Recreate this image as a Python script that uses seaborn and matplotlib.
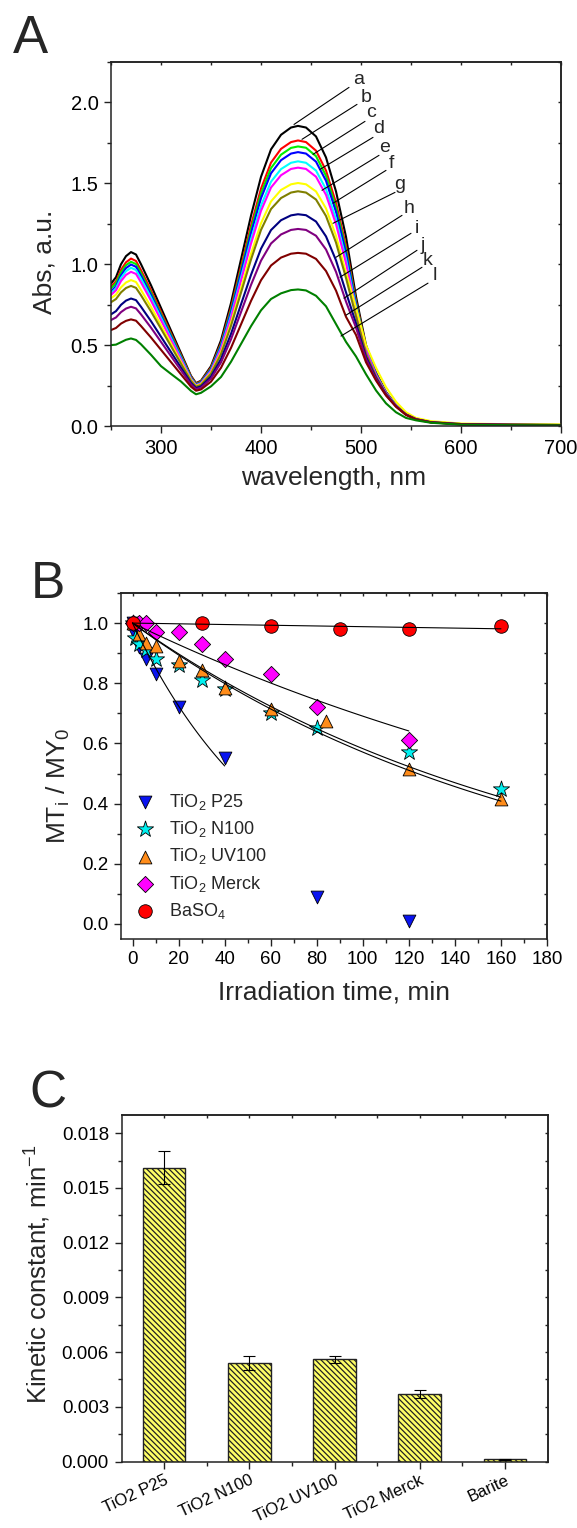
import numpy as np
import pandas as pd
import matplotlib
matplotlib.use("Agg")
import matplotlib.pyplot as plt
import seaborn as sns
from matplotlib.ticker import MultipleLocator, FixedLocator

# ---------------- data: panel A (UV-vis spectra) ----------------
wavelength = [250, 255, 260, 265, 270, 275, 280, 290, 300, 310, 320, 330, 335,
              340, 350, 360, 370, 380, 390, 400, 410, 420, 430, 437,
              445, 455, 465, 475, 485, 495, 505, 515, 525, 535, 545, 555,
              570, 600, 650, 700]
curve_labels = ["a", "b", "c", "d", "e", "f", "g", "h", "i", "j", "k", "l"]
abs_a = [0.88, 0.92, 1.00, 1.05, 1.075, 1.06, 1.00, 0.87, 0.73, 0.59, 0.45, 0.31, 0.265,
         0.28, 0.37, 0.53, 0.76, 1.03, 1.30, 1.54, 1.71, 1.80, 1.845, 1.855,
         1.845, 1.79, 1.66, 1.45, 1.17, 0.80, 0.50, 0.33, 0.21, 0.13, 0.075, 0.045,
         0.025, 0.012, 0.008, 0.006]
abs_b = [0.86, 0.895, 0.965, 1.012, 1.035, 1.020, 0.963, 0.839, 0.706, 0.572, 0.438, 0.305, 0.262,
         0.276, 0.361, 0.512, 0.730, 0.985, 1.240, 1.467, 1.628, 1.713, 1.755, 1.765,
         1.755, 1.702, 1.579, 1.379, 1.113, 0.773, 0.488, 0.324, 0.207, 0.129, 0.074, 0.045,
         0.025, 0.012, 0.008, 0.006]
abs_c = [0.85, 0.883, 0.949, 0.994, 1.015, 1.001, 0.945, 0.823, 0.692, 0.562, 0.431, 0.300, 0.258,
         0.272, 0.355, 0.503, 0.716, 0.965, 1.215, 1.437, 1.594, 1.677, 1.719, 1.728,
         1.720, 1.668, 1.547, 1.351, 1.090, 0.762, 0.483, 0.322, 0.206, 0.128, 0.074, 0.044,
         0.025, 0.012, 0.008, 0.006]
abs_d = [0.83, 0.864, 0.931, 0.976, 0.998, 0.984, 0.929, 0.810, 0.681, 0.553, 0.424, 0.297, 0.255,
         0.269, 0.350, 0.495, 0.703, 0.947, 1.191, 1.408, 1.562, 1.643, 1.684, 1.693,
         1.684, 1.634, 1.516, 1.324, 1.068, 0.751, 0.478, 0.320, 0.205, 0.128, 0.074, 0.044,
         0.025, 0.012, 0.008, 0.006]
abs_e = [0.82, 0.852, 0.915, 0.957, 0.978, 0.964, 0.911, 0.794, 0.669, 0.543, 0.418, 0.293, 0.252,
         0.265, 0.343, 0.483, 0.683, 0.918, 1.153, 1.362, 1.510, 1.588, 1.627, 1.636,
         1.627, 1.579, 1.464, 1.279, 1.032, 0.734, 0.471, 0.316, 0.204, 0.127, 0.073, 0.044,
         0.025, 0.012, 0.008, 0.006]
abs_f = [0.81, 0.839, 0.896, 0.934, 0.953, 0.940, 0.888, 0.775, 0.654, 0.532, 0.410, 0.289, 0.250,
         0.263, 0.339, 0.475, 0.669, 0.898, 1.127, 1.330, 1.474, 1.550, 1.589, 1.597,
         1.589, 1.541, 1.429, 1.248, 1.007, 0.722, 0.465, 0.314, 0.203, 0.126, 0.073, 0.044,
         0.025, 0.012, 0.008, 0.006]
abs_g = [0.79, 0.812, 0.857, 0.887, 0.902, 0.890, 0.841, 0.736, 0.623, 0.510, 0.396, 0.284, 0.247,
         0.259, 0.330, 0.456, 0.638, 0.851, 1.064, 1.253, 1.388, 1.459, 1.494, 1.502,
         1.494, 1.450, 1.345, 1.175, 0.948, 0.730, 0.500, 0.360, 0.240, 0.150, 0.085, 0.050,
         0.030, 0.015, 0.011, 0.010]
abs_h = [0.765, 0.785, 0.826, 0.853, 0.866, 0.854, 0.808, 0.708, 0.601, 0.493, 0.385, 0.278, 0.243,
         0.254, 0.323, 0.444, 0.619, 0.824, 1.029, 1.212, 1.341, 1.409, 1.443, 1.451,
         1.443, 1.400, 1.298, 1.134, 0.915, 0.678, 0.446, 0.305, 0.199, 0.124, 0.072, 0.043,
         0.024, 0.012, 0.008, 0.006]
abs_i = [0.69, 0.710, 0.749, 0.775, 0.788, 0.778, 0.737, 0.648, 0.552, 0.457, 0.361, 0.266, 0.235,
         0.245, 0.306, 0.414, 0.569, 0.752, 0.934, 1.096, 1.211, 1.272, 1.302, 1.309,
         1.303, 1.264, 1.172, 1.024, 0.826, 0.635, 0.427, 0.296, 0.195, 0.122, 0.071, 0.042,
         0.023, 0.011, 0.008, 0.006]
abs_j = [0.655, 0.671, 0.704, 0.726, 0.737, 0.727, 0.690, 0.608, 0.520, 0.432, 0.344, 0.257, 0.228,
         0.237, 0.293, 0.393, 0.536, 0.704, 0.872, 1.022, 1.128, 1.184, 1.212, 1.218,
         1.212, 1.176, 1.091, 0.953, 0.769, 0.608, 0.414, 0.290, 0.192, 0.121, 0.070, 0.042,
         0.023, 0.011, 0.007, 0.005]
abs_k = [0.593, 0.606, 0.633, 0.650, 0.659, 0.651, 0.618, 0.547, 0.471, 0.395, 0.319, 0.243, 0.218,
         0.226, 0.274, 0.360, 0.483, 0.628, 0.773, 0.901, 0.992, 1.041, 1.065, 1.070,
         1.065, 1.033, 0.958, 0.837, 0.675, 0.563, 0.394, 0.281, 0.188, 0.119, 0.068, 0.040,
         0.022, 0.010, 0.007, 0.005]
abs_l = [0.50, 0.503, 0.518, 0.533, 0.541, 0.532, 0.505, 0.44, 0.37, 0.322, 0.275, 0.217, 0.196,
         0.205, 0.245, 0.303, 0.397, 0.507, 0.617, 0.715, 0.785, 0.82, 0.84, 0.844,
         0.838, 0.805, 0.74, 0.63, 0.52, 0.43, 0.32, 0.22, 0.14, 0.085, 0.05, 0.035,
         0.02, 0.008, 0.005, 0.004]
spectra = [abs_a, abs_b, abs_c, abs_d, abs_e, abs_f, abs_g, abs_h, abs_i, abs_j, abs_k, abs_l]
curve_colors = ["#000000", "#FF0000", "#00EE00", "#0000FF", "#00FFFF", "#FF00FF",
                "#FFFF00", "#808000", "#000080", "#800080", "#800000", "#008000"]

# ---------------- data: panel B (kinetics) ----------------
series_names = ["TiO$_\\mathregular{2}$ P25", "TiO$_\\mathregular{2}$ N100",
                "TiO$_\\mathregular{2}$ UV100", "TiO$_\\mathregular{2}$ Merck",
                "BaSO$_\\mathregular{4}$"]
t_p25 = [0, 1, 3, 6, 10, 20, 40, 80, 120]
y_p25 = [1.0, 0.96, 0.92, 0.88, 0.83, 0.72, 0.55, 0.09, 0.01]
t_n100 = [0, 1, 3, 6, 10, 20, 30, 40, 60, 80, 120, 160]
y_n100 = [1.0, 0.95, 0.93, 0.91, 0.88, 0.86, 0.81, 0.78, 0.70, 0.65, 0.57, 0.45]
t_uv100 = [0, 3, 6, 10, 20, 30, 40, 60, 84, 120, 160]
y_uv100 = [1.0, 0.965, 0.935, 0.925, 0.875, 0.845, 0.785, 0.715, 0.675, 0.515, 0.415]
t_merck = [0, 3, 6, 10, 20, 30, 40, 60, 80, 120]
y_merck = [1.0, 1.0, 1.0, 0.97, 0.97, 0.93, 0.88, 0.83, 0.72, 0.61]
t_baso4 = [0, 30, 60, 90, 120, 160]
y_baso4 = [1.0, 1.0, 0.99, 0.98, 0.98, 0.99]
fit_end = [40, 160, 160, 120, 160]

# ---------------- data: panel C (kinetic constants) ----------------
samples = ["TiO2 P25", "TiO2 N100", "TiO2 UV100", "TiO2 Merck", "Barite"]
k_values = [0.0161, 0.0054, 0.0056, 0.0037, 0.00012]
k_errors = [0.0009, 0.0004, 0.0002, 0.0002, 0.00003]

# ---------------- style ----------------
sns.set_theme(style="ticks")
plt.rcParams["font.family"] = ["Liberation Sans", "DejaVu Sans"]
plt.rcParams["mathtext.fontset"] = "custom"
plt.rcParams["mathtext.rm"] = "Liberation Sans"
plt.rcParams["mathtext.it"] = "Liberation Sans:italic"
plt.rcParams["mathtext.bf"] = "Liberation Sans:bold"
plt.rcParams["hatch.linewidth"] = 0.9
plt.rcParams["axes.linewidth"] = 1.1
plt.rcParams["axes.edgecolor"] = "#222222"

W, H = 577, 1528
fig = plt.figure(figsize=(W / 100, H / 100), dpi=100)
fig.patch.set_facecolor("white")


def px_axes(left, top, right, bottom):
    return fig.add_axes([left / W, 1 - bottom / H, (right - left) / W, (bottom - top) / H])


def style_axes(ax, xmaj, xmin, ymaj, ymin, fs):
    ax.xaxis.set_major_locator(xmaj)
    ax.xaxis.set_minor_locator(xmin)
    ax.yaxis.set_major_locator(ymaj)
    ax.yaxis.set_minor_locator(ymin)
    ax.tick_params(which="major", direction="out", length=5, width=1.0, labelsize=fs,
                   colors="#222222", labelcolor="black", pad=4)
    ax.tick_params(which="minor", direction="out", length=3, width=1.0, colors="#222222")
    for s in ax.spines.values():
        s.set_visible(True)
    top = ax.secondary_xaxis("top")
    top.xaxis.set_major_locator(xmaj)
    top.xaxis.set_minor_locator(xmin)
    top.tick_params(which="both", direction="in", length=2.5, width=1.0, labeltop=False,
                    colors="#222222")
    right = ax.secondary_yaxis("right")
    right.yaxis.set_major_locator(ymaj)
    right.yaxis.set_minor_locator(ymin)
    right.tick_params(which="both", direction="in", length=2.5, width=1.0, labelright=False,
                      colors="#222222")


# ================= Panel A =================
axA = px_axes(111, 62, 561, 426)
rows = []
for lab, vals in zip(curve_labels, spectra):
    for w, v in zip(wavelength, vals):
        rows.append((lab, w, v))
dfA = pd.DataFrame(rows, columns=["curve", "wavelength", "abs"])
sns.lineplot(data=dfA, x="wavelength", y="abs", hue="curve", hue_order=curve_labels,
             palette=dict(zip(curve_labels, curve_colors)), estimator=None, sort=False,
             linewidth=1.5, legend=False, ax=axA)
axA.set_xlim(250, 700)
axA.set_ylim(0, 2.25)
style_axes(axA, MultipleLocator(100), MultipleLocator(50), MultipleLocator(0.5),
           MultipleLocator(0.25), 14.5)
axA.xaxis.set_major_locator(FixedLocator([300, 400, 500, 600, 700]))
axA.set_xlabel("wavelength, nm", fontsize=19)
axA.set_ylabel("Abs, a.u.", fontsize=19)
axA.xaxis.set_label_coords(0.494, -0.11)
axA.yaxis.set_label_coords(-0.12, 0.45)

# leader lines and letters (positions are layout)
lead_start = [(433, 1.864), (441, 1.772), (452, 1.679), (459, 1.586), (461, 1.457), (472, 1.377),
              (472, 1.253), (475, 1.043), (479, 0.920), (483, 0.790), (485, 0.685), (480, 0.556)]
lead_end = [(488, 2.093), (496, 1.988), (504, 1.883), (512, 1.784), (518, 1.673), (525, 1.580),
            (534, 1.444), (541, 1.302), (550, 1.191), (556, 1.086), (561, 0.981), (567, 0.883)]
lab_pos = [(498, 2.142), (505, 2.030), (510, 1.940), (518, 1.836), (524, 1.724), (530, 1.620),
           (539, 1.490), (548, 1.342), (556, 1.218), (562, 1.113), (567, 1.020), (574, 0.928)]
for lab, s, e, p in zip(curve_labels, lead_start, lead_end, lab_pos):
    axA.plot([s[0], e[0]], [s[1], e[1]], color="black", lw=0.8, zorder=5)
    axA.text(p[0], p[1], lab, fontsize=14, ha="center", va="center", zorder=6)

# ================= Panel B =================
axB = px_axes(121, 593, 547, 939)
b_t = [t_p25, t_n100, t_uv100, t_merck, t_baso4]
b_y = [y_p25, y_n100, y_uv100, y_merck, y_baso4]
b_markers = ["v", "*", "^", "D", "o"]
b_colors = ["#0A14F0", "#00F0F0", "#FF8C1A", "#FF00FF", "#FF0000"]
b_sizes = [85, 150, 85, 68, 95]
for name, tt, yy, m, c, s in zip(series_names, b_t, b_y, b_markers, b_colors, b_sizes):
    sns.scatterplot(x=tt, y=yy, marker=m, color=c, s=s, edgecolor="black", linewidth=0.6,
                    label=name, ax=axB, zorder=3)
for k, tend in zip(k_values, fit_end):
    tt = np.linspace(0, tend, 100)
    axB.plot(tt, np.exp(-k * tt), color="black", lw=0.8, zorder=4)
axB.set_xlim(-5, 180)
axB.set_ylim(-0.05, 1.1)
style_axes(axB, MultipleLocator(20), MultipleLocator(10), MultipleLocator(0.2),
           MultipleLocator(0.1), 13.5)
axB.set_xlabel("Irradiation time, min", fontsize=19)
axB.set_ylabel("MT$_\\mathregular{i}$ / MY$_\\mathregular{0}$", fontsize=19)
axB.xaxis.set_label_coords(0.5, -0.12)
axB.yaxis.set_label_coords(-0.115, 0.442)
axB.legend(loc="upper left", bbox_to_anchor=(0.035, 0.425), frameon=False, fontsize=13,
           handlelength=1.0, handletextpad=0.85, labelspacing=0.4, borderaxespad=0,
           borderpad=0)

# ================= Panel C =================
axC = px_axes(121.5, 1115, 547.5, 1461.5)
dfC = pd.DataFrame({"sample": samples, "k": k_values})
sns.barplot(data=dfC, x="sample", y="k", order=samples, width=0.5, color="#FFFF66",
            saturation=1, edgecolor="#222222", linewidth=1.0, errorbar=None, ax=axC)
for p in axC.patches:
    p.set_hatch("\\" * 6)
    p.set_facecolor("#FFFF66")
axC.errorbar(range(len(samples)), k_values, yerr=k_errors, fmt="none", ecolor="black",
             elinewidth=0.8, capsize=4, capthick=0.8, zorder=5)
axC.set_xlim(-0.5, 4.5)
axC.set_ylim(0, 0.019)
style_axes(axC, FixedLocator([0, 1, 2, 3, 4]), FixedLocator([0.5, 1.5, 2.5, 3.5]),
           MultipleLocator(0.003), MultipleLocator(0.0015), 13.5)
axC.yaxis.set_major_formatter(matplotlib.ticker.FormatStrFormatter("%.3f"))
axC.set_xticks(range(len(samples)))
axC.set_xticklabels(samples, rotation=25, ha="right", rotation_mode="anchor", fontsize=12)
axC.tick_params(axis="x", which="major", pad=3)
axC.set_xlabel("")
axC.set_ylabel("Kinetic constant, min$^\\mathregular{-1}$", fontsize=18.5)
axC.yaxis.set_label_coords(-0.16, 0.54)

# panel letters
fig.text(13 / W, 1 - 53 / H, "A", fontsize=38, va="baseline", ha="left")
fig.text(31 / W, 1 - 598 / H, "B", fontsize=37, va="baseline", ha="left")
fig.text(29 / W, 1 - 1107 / H, "C", fontsize=37, va="baseline", ha="left")

fig.savefig("out.png", dpi=100, facecolor="white")
